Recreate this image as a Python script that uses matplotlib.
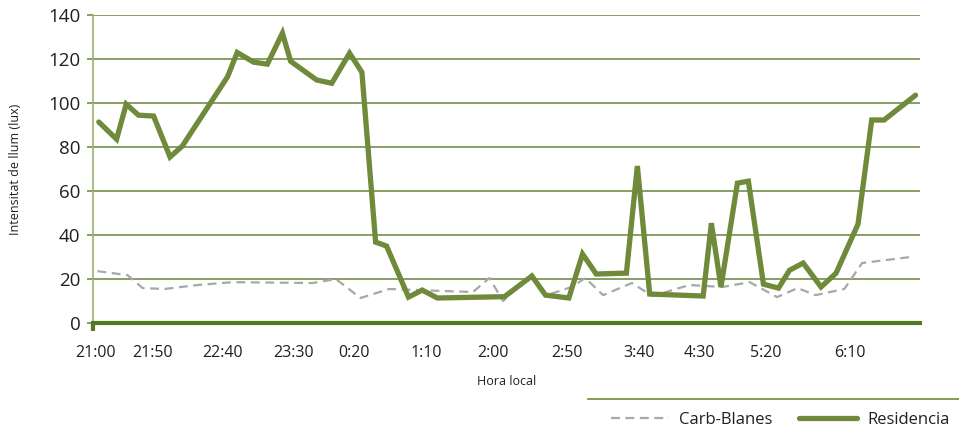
import numpy as np
import matplotlib
matplotlib.use("Agg")
import matplotlib.pyplot as plt
from matplotlib.lines import Line2D

plt.rcParams['font.family'] = ['Open Sans', 'DejaVu Sans']

# minutes after 21:00
res_t = [2, 15, 22, 31, 42, 54, 63, 96, 103, 115, 125, 136, 142, 161, 172, 185,
         194, 204, 212, 228, 238, 249, 298, 318, 328, 345, 355, 365, 387, 395,
         404, 443, 449, 456, 468, 476, 487, 498, 506, 516, 529, 540, 556, 566,
         575, 598]
res_lux = [91.4, 83.6, 99.5, 94.5, 94.1, 75.5, 80.5, 112, 123, 118.6, 117.7,
           131.8, 119, 110.5, 109, 122.7, 114, 36.8, 35, 11.8, 15, 11.4, 12,
           21.4, 12.7, 11.4, 31.4, 22.3, 22.7, 71.4, 13.2, 12.3, 45.4, 16.4,
           63.6, 64.5, 17.7, 15.9, 24, 27.3, 16.4, 22.7, 45, 92.3, 92.3, 103.6]

carb_t = [1, 23, 34, 50, 74, 100, 158, 175, 193, 214, 236, 275, 287, 297, 317,
          329, 347, 357, 370, 391, 406, 433, 457, 477, 497, 512, 525, 546, 559,
          594]
carb_lux = [23.6, 21.8, 15.9, 15.5, 17.3, 18.6, 18.2, 20, 11.4, 15.5, 15,
            14.1, 20.5, 10, 21.8, 12.7, 16.4, 20.5, 12.7, 18.2, 12.3, 17.3,
            16.4, 18.6, 11.8, 15.9, 12.7, 15.5, 27.3, 30]

tick_pos = [0, 41, 92, 144, 188, 241, 290, 344, 396, 440, 489, 550]
tick_labels = ['21:00', '21:50', '22:40', '23:30', '0:20', '1:10', '2:00',
               '2:50', '3:40', '4:30', '5:20', '6:10']

green = '#6e8a3a'
grid_green = '#66843a'
axis_green = '#537a22'
gray = '#a8a8ab'

fig = plt.figure(figsize=(9.59, 4.36), dpi=100)
ax = fig.add_axes([0.097, 0.259, 0.862, 0.7064])

ax.plot(carb_t, carb_lux, color=gray, lw=1.6, dashes=(4, 2.5),
        label='Carb-Blanes')
ax.plot(res_t, res_lux, color=green, lw=3.8, solid_joinstyle='miter',
        solid_capstyle='round', label='Residencia')

ax.set_xlim(-2.2, 601)
ax.set_ylim(0, 140)
ax.set_yticks(np.arange(0, 141, 20))
ax.set_xticks(tick_pos)
ax.set_xticklabels(tick_labels)
ax.set_xticks([-2.2], minor=True)

ax.grid(axis='y', color=grid_green, lw=1.1)
ax.set_axisbelow(True)
for s in ['top', 'right']:
    ax.spines[s].set_visible(False)
ax.spines['left'].set_color('#9cb070')
ax.spines['left'].set_linewidth(1.2)
ax.spines['bottom'].set_color(axis_green)
ax.spines['bottom'].set_linewidth(3)
ax.spines['bottom'].set_zorder(5)

ax.tick_params(axis='y', length=4, width=1.1, color=grid_green, pad=5,
               labelsize=13.5, labelcolor='#231f20')
ax.tick_params(axis='x', which='major', length=0, pad=16, labelsize=11.5,
               labelcolor='#231f20')
ax.tick_params(axis='x', which='minor', length=6, width=3, color=axis_green)

ax.set_xlabel('Hora local', fontsize=9, color='#231f20', labelpad=10)
ax.set_ylabel('Intensitat de llum (lux)', fontsize=9, color='#231f20',
              labelpad=19)

fig.add_artist(Line2D([0.613, 1.0], [0.085, 0.085], color=green, lw=1.2))
fig.legend(loc='center right', bbox_to_anchor=(1.006, 0.036), ncol=2,
           frameon=False, fontsize=12, handlelength=3.5, handletextpad=0.6,
           columnspacing=1.6, labelcolor='#231f20')

fig.savefig('out.png', dpi=100)
